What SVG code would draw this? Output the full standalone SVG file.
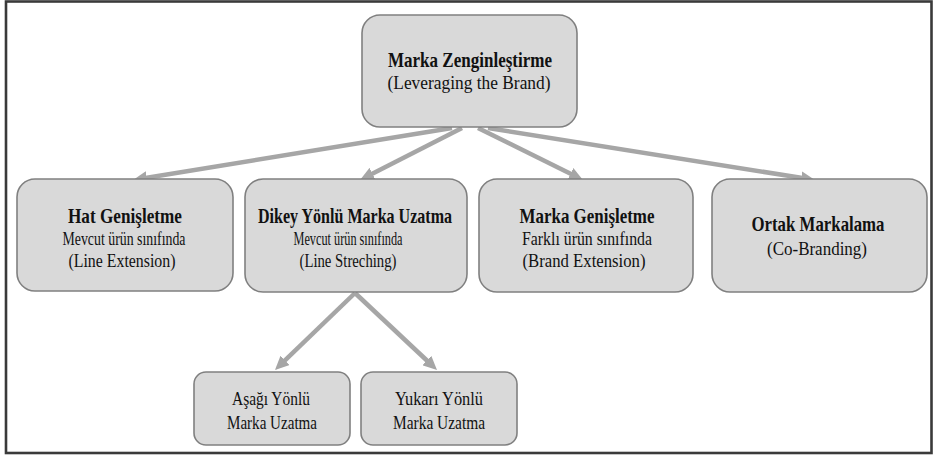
<svg xmlns="http://www.w3.org/2000/svg" width="933" height="457" viewBox="0 0 933 457">
  <style>
    .box { fill: #d9d9d9; stroke: #808080; stroke-width: 1.6; }
    text { font-family: 'Liberation Serif', 'DejaVu Serif', serif; fill: #111; text-anchor: middle; }
    .b { font-weight: bold; font-size: 21px; }
    .n { font-size: 18px; }
    .m { font-size: 19.5px; }
    .conn { stroke: #a6a6a6; stroke-width: 4.5; fill: none; marker-end: url(#head); }
  </style>
  <defs>
    <marker id="head" markerUnits="userSpaceOnUse" markerWidth="14" markerHeight="13" viewBox="0 0 14 13" refX="3" refY="6.5" orient="auto">
      <path d="M0,0 L14,6.5 L0,13 z" fill="#a6a6a6"/>
    </marker>
  </defs>

  <rect x="0" y="0" width="933" height="457" fill="#ffffff"/>
  <!-- outer frame -->
  <rect x="6" y="1.5" width="925.5" height="451.5" fill="none" stroke="#3a3a3a" stroke-width="2.6"/>

  <g id="connectors">
    <line class="conn" x1="452" y1="128" x2="143.9" y2="178.2"/>
    <line class="conn" x1="462" y1="128" x2="369.8" y2="175.0"/>
    <line class="conn" x1="478" y1="128" x2="573.1" y2="175.1"/>
    <line class="conn" x1="488" y1="128" x2="804.1" y2="178.3"/>
    <line class="conn" x1="355" y1="293" x2="282.9" y2="362.4"/>
    <line class="conn" x1="355" y1="293" x2="429" y2="362.5"/>
  </g>

  <g id="marka-zenginlestirme">
    <rect class="box" x="362" y="15" width="215" height="112" rx="18"/>
    <text class="b" x="470" y="67" textLength="164" lengthAdjust="spacingAndGlyphs">Marka Zenginleştirme</text>
    <text class="m" x="469" y="89" textLength="163" lengthAdjust="spacingAndGlyphs">(Leveraging  the Brand)</text>
  </g>

  <g id="hat-genisletme">
    <rect class="box" x="17" y="179" width="216" height="112" rx="18"/>
    <text class="b" x="125" y="223" textLength="114" lengthAdjust="spacingAndGlyphs">Hat Genişletme</text>
    <text class="n" x="124" y="245" textLength="123" lengthAdjust="spacingAndGlyphs">Mevcut ürün sınıfında</text>
    <text class="n" x="122" y="267" textLength="107" lengthAdjust="spacingAndGlyphs">(Line Extension)</text>
  </g>

  <g id="dikey-yonlu-marka-uzatma">
    <rect class="box" x="245" y="179" width="222" height="113" rx="18"/>
    <text class="b" x="355" y="223" textLength="194" lengthAdjust="spacingAndGlyphs">Dikey Yönlü Marka Uzatma</text>
    <text class="n" x="348" y="245" textLength="109" lengthAdjust="spacingAndGlyphs">Mevcut ürün sınıfında</text>
    <text class="n" x="348" y="267" textLength="97" lengthAdjust="spacingAndGlyphs">(Line Streching)</text>
  </g>

  <g id="marka-genisletme">
    <rect class="box" x="479" y="179" width="214" height="113" rx="18"/>
    <text class="b" x="587" y="223" textLength="135" lengthAdjust="spacingAndGlyphs">Marka Genişletme</text>
    <text class="n" x="587" y="245" textLength="130" lengthAdjust="spacingAndGlyphs">Farklı ürün sınıfında</text>
    <text class="n" x="584" y="267" textLength="123" lengthAdjust="spacingAndGlyphs">(Brand Extension)</text>
  </g>

  <g id="ortak-markalama">
    <rect class="box" x="712" y="179" width="215" height="113" rx="18"/>
    <text class="b" x="818" y="231" textLength="133" lengthAdjust="spacingAndGlyphs">Ortak Markalama</text>
    <text class="m" x="817" y="255" textLength="100" lengthAdjust="spacingAndGlyphs">(Co-Branding)</text>
  </g>

  <g id="asagi-yonlu">
    <rect class="box" x="194" y="372" width="156" height="73" rx="12"/>
    <text class="n" x="271" y="405" textLength="78" lengthAdjust="spacingAndGlyphs">Aşağı Yönlü</text>
    <text class="n" x="272" y="429" textLength="90" lengthAdjust="spacingAndGlyphs">Marka Uzatma</text>
  </g>

  <g id="yukari-yonlu">
    <rect class="box" x="361" y="372" width="156" height="73" rx="12"/>
    <text class="n" x="439" y="405" textLength="88" lengthAdjust="spacingAndGlyphs">Yukarı Yönlü</text>
    <text class="n" x="439" y="429" textLength="92" lengthAdjust="spacingAndGlyphs">Marka Uzatma</text>
  </g>
</svg>
